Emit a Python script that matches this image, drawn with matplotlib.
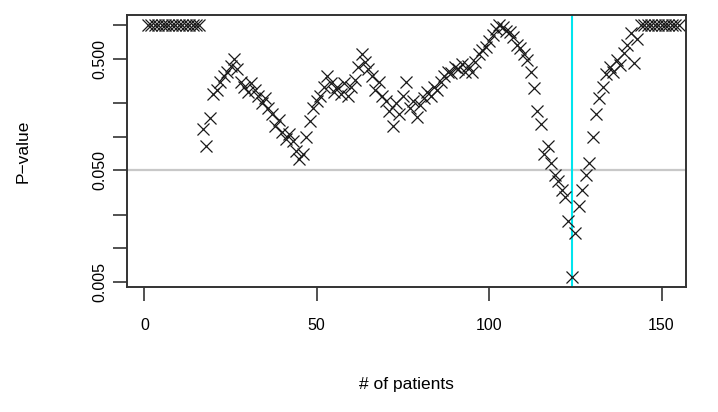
import numpy as np
import matplotlib
matplotlib.use("Agg")
import matplotlib.pyplot as plt

plt.rcParams['font.family'] = ['Liberation Sans', 'DejaVu Sans']

# P-values after each patient
pvals_start = [1.0] * 16
pvals_mid = [
    0.116, 0.082, 0.146, 0.24, 0.26, 0.31, 0.35, 0.38, 0.43, 0.49,     # 17-26
    0.40, 0.31, 0.28, 0.25, 0.30, 0.26, 0.23, 0.20, 0.22, 0.18,        # 27-36
    0.16, 0.124, 0.14, 0.11, 0.095, 0.105, 0.091, 0.074, 0.063, 0.07,  # 37-46
    0.10, 0.137, 0.18, 0.21, 0.23, 0.28, 0.35, 0.30, 0.25, 0.28,       # 47-56
    0.24, 0.30, 0.23, 0.28, 0.32, 0.42, 0.55, 0.47, 0.40, 0.35,        # 57-66
    0.26, 0.31, 0.23, 0.21, 0.17, 0.124, 0.20, 0.16, 0.23, 0.31,       # 67-76
    0.18, 0.21, 0.15, 0.19, 0.22, 0.25, 0.23, 0.28, 0.26, 0.31,        # 77-86
    0.35, 0.38, 0.37, 0.42, 0.40, 0.45, 0.38, 0.43, 0.38, 0.47,        # 87-96
    0.55, 0.60, 0.64, 0.72, 0.82, 0.91, 0.99, 0.95, 0.88, 0.87,        # 97-106
    0.78, 0.66, 0.62, 0.55, 0.48, 0.38, 0.27, 0.17, 0.13, 0.069,       # 107-116
    0.082, 0.058, 0.045, 0.040, 0.033, 0.029, 0.0175, 0.0055, 0.0137, 0.024,  # 117-126
    0.033, 0.045, 0.058, 0.10, 0.16, 0.22, 0.28, 0.36, 0.42, 0.38,     # 127-136
    0.48, 0.44, 0.56, 0.66, 0.85, 0.46, 0.75,                          # 137-143
]
pvals_end = [1.0] * 12
pvals = np.array(pvals_start + pvals_mid + pvals_end)
patients = np.arange(1, len(pvals) + 1)

alpha = 0.05
min_patient = 124

fig = plt.figure(figsize=(7.18, 4.12), dpi=100)
ax = fig.add_axes([0.177, 0.303, 0.955 - 0.177, 0.964 - 0.303])

ax.plot(patients, pvals, linestyle='none', marker='x', markersize=8,
        markeredgewidth=0.9, color='#1a1a1a')
ax.axhline(alpha, color='#c8c8c8', lw=1.6, zorder=0)
ax.axvline(min_patient, color='#00e5ee', lw=1.5, zorder=0)

ax.set_xlim(-5, 157)
lo, hi = np.log10(pvals.min()), np.log10(pvals.max())
ypad = 0.04 * (hi - lo)
ax.set_yscale('log')
ax.set_ylim(10 ** (lo - ypad), 10 ** (hi + ypad))

ax.set_xticks([0, 50, 100, 150])
ax.set_xticklabels(['0', '50', '100', '150'])
yt = [0.005, 0.01, 0.02, 0.05, 0.1, 0.2, 0.5, 1.0]
ax.set_yticks(yt)
ax.set_yticklabels(['0.005', '', '', '0.050', '', '', '0.500', ''],
                   rotation=90, va='center')
ax.minorticks_off()
ax.tick_params(axis='both', length=10, width=1.2, color='#333333',
               labelsize=11.5)
ax.tick_params(axis='x', pad=12)
ax.tick_params(axis='y', pad=4)

for s in ax.spines.values():
    s.set_linewidth(1.4)
    s.set_color('#333333')

ax.set_ylabel('P\u2212value', fontsize=12.5, labelpad=45)
ax.set_xlabel('# of patients', fontsize=12.5, labelpad=32)

fig.savefig('out.png', dpi=100)
